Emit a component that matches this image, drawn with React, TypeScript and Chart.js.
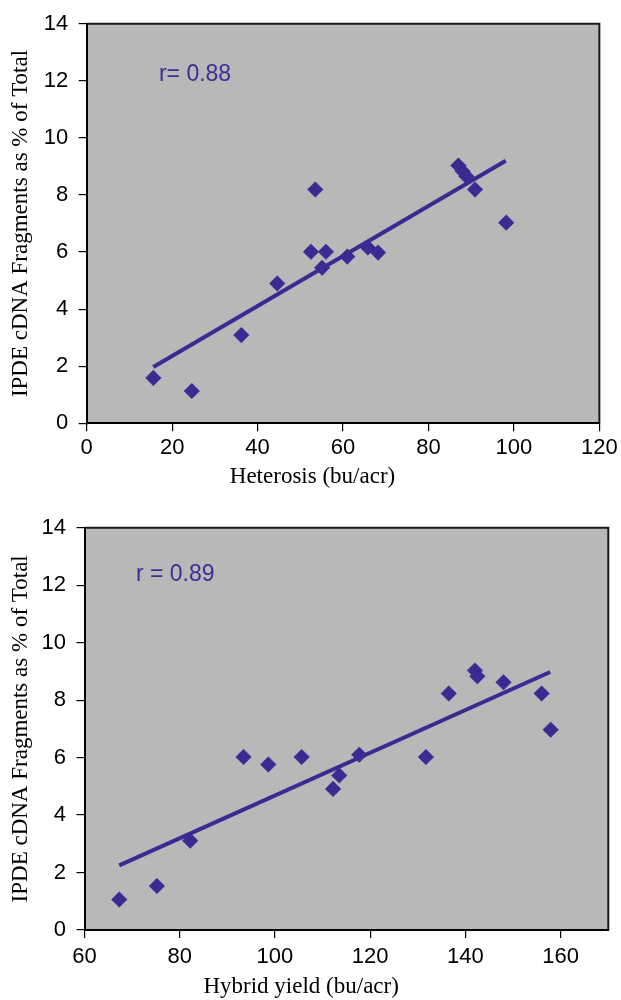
import React, { useEffect, useRef } from 'react';
import { Chart, registerables } from 'chart.js';

Chart.register(...registerables);

// ---------- Data ----------
const heterosis = [15.6, 24.6, 36.2, 44.6, 52.5, 53.5, 55.1, 56.0, 61.0, 65.8, 68.2, 87.0, 88.0, 88.9, 90.9, 98.2];
const fragmentsTop = [1.59, 1.13, 3.09, 4.9, 6.01, 8.19, 5.45, 6.01, 5.84, 6.16, 5.98, 9.03, 8.83, 8.65, 8.19, 7.03];
const trendTopX = [15.6, 98.1];
const trendTopY = [1.97, 9.2];

const hybridYield = [67.3, 75.2, 82.2, 93.4, 98.6, 105.6, 112.2, 113.5, 117.7, 131.7, 136.5, 142.0, 142.5, 148.0, 156.0, 157.9];
const fragmentsBottom = [1.06, 1.53, 3.11, 6.02, 5.76, 6.02, 4.91, 5.38, 6.1, 6.02, 8.23, 9.03, 8.83, 8.62, 8.23, 6.97];
const trendBottomX = [67.3, 157.8];
const trendBottomY = [2.25, 8.98];

const yAxisTitle = 'IPDE cDNA Fragments as % of Total';
const topXTitle = 'Heterosis (bu/acr)';
const bottomXTitle = 'Hybrid yield (bu/acr)';
const topR = 'r= 0.88';
const bottomR = 'r = 0.89';
const topRPos = [16.9, 12.22];
const bottomRPos = [70.8, 12.37];

const yRange = [0, 14, 2];
const topXRange = [0, 120, 20];
const bottomXRange = [60, 170, 20];

// ---------- Styles ----------
const MARK = '#3a2a92';
const TEXT_R = '#3d2d96';
const PLOT_BG = '#b8b8b8';
const SANS = '"Liberation Sans", Arial, Helvetica, sans-serif';
const SERIF = '"Liberation Serif", "Times New Roman", serif';

type PanelProps = {
  xs: number[];
  ys: number[];
  tx: number[];
  ty: number[];
  xRange: number[];
  xTitle: string;
  rText: string;
  rPos: number[];
  geo: {
    padL: number; padR: number; padT: number; padB: number;
    yAxisW: number; xAxisH: number; xTickPad: number; yTitlePad: number; titlePad: number;
  };
};

const plotFrame = {
  id: 'plotFrame',
  beforeDraw(chart: any) {
    const { ctx, chartArea: a } = chart;
    ctx.save();
    ctx.fillStyle = PLOT_BG;
    ctx.fillRect(a.left, a.top, a.right - a.left, a.bottom - a.top);
    ctx.restore();
  },
  beforeDatasetsDraw(chart: any) {
    const { ctx, chartArea: a } = chart;
    ctx.save();
    ctx.strokeStyle = '#1a1a1a';
    ctx.lineWidth = 2;
    ctx.beginPath();
    ctx.moveTo(a.left, a.top);
    ctx.lineTo(a.right, a.top);
    ctx.lineTo(a.right, a.bottom);
    ctx.stroke();
    ctx.restore();
  },
};

function Panel({ xs, ys, tx, ty, xRange, xTitle, rText, rPos, geo }: PanelProps) {
  const ref = useRef<HTMLCanvasElement | null>(null);
  useEffect(() => {
    if (!ref.current) return;
    const rLabel = {
      id: 'rLabel',
      afterDatasetsDraw(chart: any) {
        const { ctx } = chart;
        const x = chart.scales.x.getPixelForValue(rPos[0]);
        const y = chart.scales.y.getPixelForValue(rPos[1]);
        ctx.save();
        ctx.font = `23px ${SANS}`;
        ctx.fillStyle = TEXT_R;
        ctx.textAlign = 'left';
        ctx.textBaseline = 'middle';
        ctx.fillText(rText, x, y);
        ctx.restore();
      },
    };
    const gridOpts = {
      display: true,
      drawOnChartArea: false,
      drawTicks: true,
      tickLength: 8,
      color: '#000',
      lineWidth: 1.2,
    };
    const chart = new Chart(ref.current, {
      type: 'scatter',
      data: {
        datasets: [
          {
            data: xs.map((x, i) => ({ x, y: ys[i] })),
            pointStyle: 'rectRot',
            pointRadius: 7.8,
            backgroundColor: MARK,
            borderColor: MARK,
            borderWidth: 0.5,
            showLine: false,
          },
          {
            data: tx.map((x, i) => ({ x, y: ty[i] })),
            showLine: true,
            pointRadius: 0,
            borderColor: MARK,
            borderWidth: 4,
            borderCapStyle: 'butt',
          },
        ],
      } as any,
      options: {
        animation: false,
        responsive: true,
        maintainAspectRatio: false,
        events: [],
        layout: { padding: { left: geo.padL, right: geo.padR, top: geo.padT, bottom: geo.padB } },
        plugins: {
          legend: { display: false },
          tooltip: { enabled: false },
          title: {
            display: true,
            position: 'bottom',
            text: xTitle,
            color: '#000',
            font: { family: SERIF, size: 23, weight: 'normal', lineHeight: 1 },
            padding: { top: geo.titlePad, bottom: 0 },
          },
        },
        scales: {
          x: {
            type: 'linear',
            min: xRange[0],
            max: xRange[1],
            grid: gridOpts,
            border: { display: true, color: '#000', width: 2 },
            ticks: {
              stepSize: xRange[2],
              includeBounds: false,
              color: '#000',
              padding: geo.xTickPad,
              maxRotation: 0,
              font: { family: SANS, size: 22 },
            },
            afterFit: (s: any) => { s.height = geo.xAxisH; },
          },
          y: {
            type: 'linear',
            min: yRange[0],
            max: yRange[1],
            grid: gridOpts,
            border: { display: true, color: '#000', width: 2 },
            ticks: {
              stepSize: yRange[2],
              color: '#000',
              padding: 10.5,
              font: { family: SANS, size: 22 },
            },
            title: {
              display: true,
              text: yAxisTitle,
              color: '#000',
              font: { family: SERIF, size: 23, weight: 'normal', lineHeight: 1.2 },
              padding: { top: geo.yTitlePad, bottom: 0 },
            },
            afterFit: (s: any) => { s.width = geo.yAxisW; },
          },
        },
      } as any,
      plugins: [plotFrame, rLabel],
    });
    return () => chart.destroy();
  }, []);
  return <canvas ref={ref} />;
}

export default function App() {
  return (
    <div style={{ position: 'absolute', left: 0, top: 0, width: 621, height: 1000, overflow: 'hidden', background: '#fff' }}>
      <div style={{ position: 'absolute', left: 0, top: 0, width: 621, height: 500 }}>
        <Panel
          xs={heterosis}
          ys={fragmentsTop}
          tx={trendTopX}
          ty={trendTopY}
          xRange={topXRange}
          xTitle={topXTitle}
          rText={topR}
          rPos={topRPos}
          geo={{ padL: 23.3, padR: 19.3, padT: 21.7, padB: 11.8, yAxisW: 63.4, xAxisH: 38, xTickPad: 3.3, yTitlePad: -16.6, titlePad: 3.9 }}
        />
      </div>
      <div style={{ position: 'absolute', left: -6, top: 500, width: 627, height: 500 }}>
        <Panel
          xs={hybridYield}
          ys={fragmentsBottom}
          tx={trendBottomX}
          ty={trendBottomY}
          xRange={bottomXRange}
          xTitle={bottomXTitle}
          rText={bottomR}
          rPos={bottomRPos}
          geo={{ padL: 0, padR: 12.7, padT: 27.7, padB: 1.2, yAxisW: 90.5, xAxisH: 42, xTickPad: 5.6, yTitlePad: 12.7, titlePad: 3.8 }}
        />
      </div>
    </div>
  );
}
